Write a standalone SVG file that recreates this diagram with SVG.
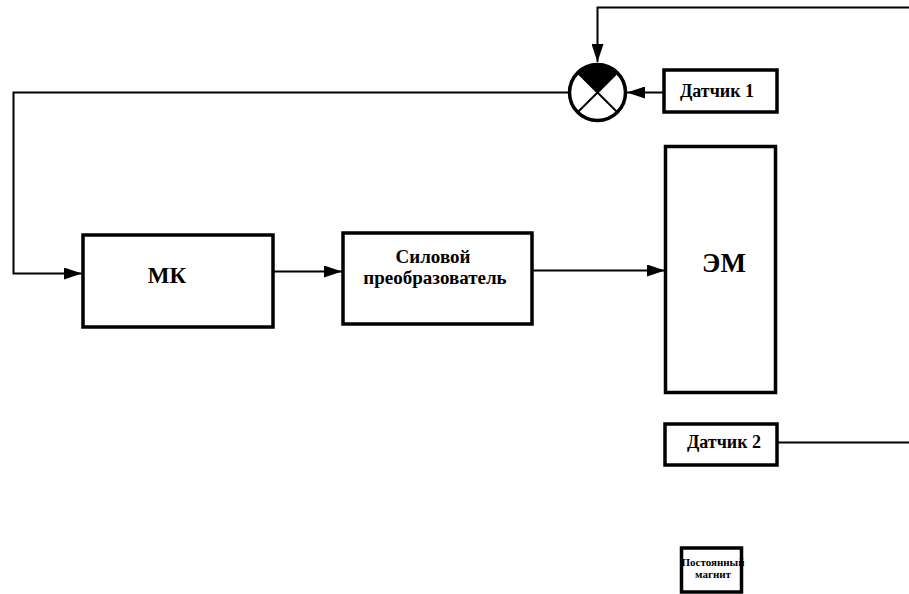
<svg xmlns="http://www.w3.org/2000/svg" width="909" height="594" viewBox="0 0 909 594">
<style>
.box{fill:#fff;stroke:#000;stroke-width:3.5}
.ln{fill:none;stroke:#000;stroke-width:2}
.t{font-family:'Liberation Serif','Times New Roman','DejaVu Serif',serif;font-weight:bold;fill:#000;text-anchor:middle}
</style>
<defs>
<marker id="arL" markerWidth="18" markerHeight="12" refX="18" refY="6" orient="auto" markerUnits="userSpaceOnUse" viewBox="0 0 18 12">
<path d="M0,0 L18,6 L0,12 z" fill="#000"/>
</marker>
</defs>
<rect width="909" height="594" fill="#fff"/>
<g id="connectors">
<path class="ln" d="M909,7.5 H597.5 V62" marker-end="url(#arL)"/>
<path class="ln" d="M663,92.5 H627" marker-end="url(#arL)"/>
<path class="ln" d="M568,92.5 H13.5 V273.5 H82" marker-end="url(#arL)"/>
<path class="ln" d="M273,271.5 H342" marker-end="url(#arL)"/>
<path class="ln" d="M532,270.5 H665" marker-end="url(#arL)"/>
<path class="ln" d="M777,442.5 H909"/>
</g>
<g id="comparator">
<circle cx="597.5" cy="92.5" r="28" fill="#fff" stroke="#000" stroke-width="3.5"/>
<path d="M597.5,92.5 L577.7,72.7 A28,28 0 0 1 617.3,72.7 Z" fill="#000"/>
<path class="ln" d="M577.7,72.7 L617.3,112.3 M617.3,72.7 L577.7,112.3"/>
</g>
<g id="datchik1">
<rect class="box" x="664" y="70" width="113" height="42"/>
<text class="t" x="717" y="97" font-size="18" font-family="Liberation Serif, serif">Датчик 1</text>
</g>
<g id="mk">
<rect class="box" x="83" y="235" width="190" height="92"/>
<text class="t" x="167" y="283" font-size="23" font-family="Liberation Serif, serif">МК</text>
</g>
<g id="power">
<rect class="box" x="343" y="233" width="189" height="91"/>
<text class="t" x="433" y="263" font-size="19" font-family="Liberation Serif, serif">Силовой</text>
<text class="t" x="435" y="284" font-size="19" font-family="Liberation Serif, serif">преобразователь</text>
</g>
<g id="em">
<rect class="box" x="665.5" y="146.5" width="110" height="246"/>
<text class="t" x="724" y="272" font-size="27" font-family="Liberation Serif, serif">ЭМ</text>
</g>
<g id="datchik2">
<rect class="box" x="665" y="424" width="112" height="41"/>
<text class="t" x="724" y="448" font-size="18" font-family="Liberation Serif, serif">Датчик 2</text>
</g>
<g id="magnet">
<rect class="box" x="681.5" y="548" width="60" height="44"/>
<text class="t" x="713" y="566" font-size="11" font-family="Liberation Serif, serif">Постоянный</text>
<text class="t" x="713" y="578" font-size="11" font-family="Liberation Serif, serif">магнит</text>
</g>
</svg>
